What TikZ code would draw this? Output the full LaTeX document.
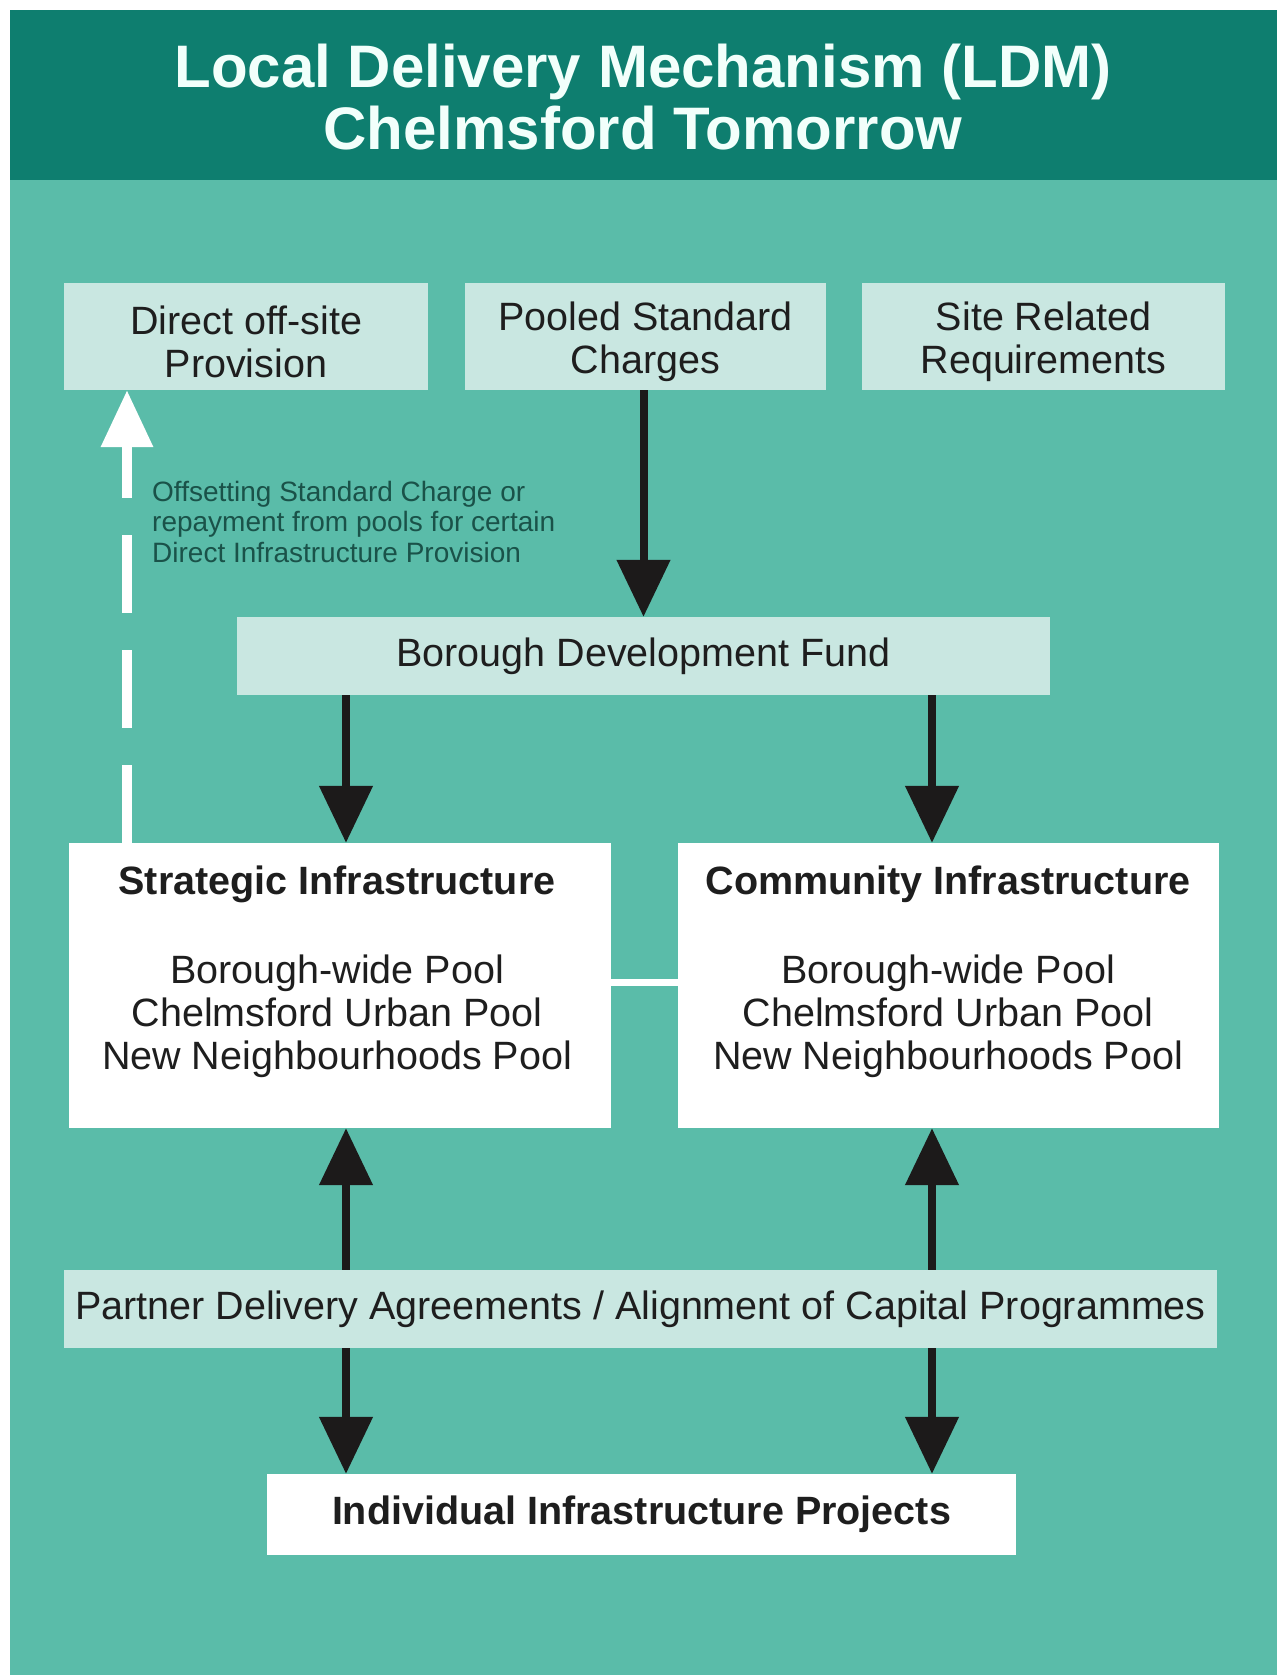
\documentclass[tikz,border=0pt]{standalone}
\usepackage{fontspec}
\setmainfont{Liberation Sans}
\usetikzlibrary{arrows.meta}
\definecolor{hdr}{HTML}{0E7E6F}
\definecolor{bgteal}{HTML}{5ABCA9}
\definecolor{paleteal}{HTML}{C9E7E1}
\definecolor{lbltxt}{HTML}{1A5249}
\definecolor{arrc}{HTML}{1C1A1A}
\definecolor{txtc}{HTML}{1E1E1E}
\definecolor{ttlc}{HTML}{F2FFFB}
\tikzset{
  boxbase/.style={inner sep=0pt, align=center, text=txtc,
    font=\fontsize{39.5bp}{43bp}\selectfont},
  palebox/.style={boxbase, fill=paleteal},
  whitebox/.style={boxbase, fill=white},
  plaintext/.style={inner sep=0pt, align=center, text=txtc,
    font=\fontsize{39.5bp}{43bp}\selectfont},
  arr/.style={draw=arrc, line width=8bp, -{Triangle[width=52bp,length=57bp]}},
  dasharr/.style={draw=white, line width=10bp, dash pattern=on 78bp off 37bp,
    -{Triangle[width=50bp,length=57bp]}},
}
\begin{document}
\begin{tikzpicture}[x=1bp,y=-1bp]
\useasboundingbox (0,0) rectangle (1277,1675);
\fill[white] (0,0) rectangle (1277,1675);
\fill[bgteal] (10,10) rectangle (1277,1675);
\fill[hdr] (10,10) rectangle (1277,180);

\node[inner sep=0pt, align=center, text=ttlc,
  font=\fontsize{60bp}{62bp}\selectfont\bfseries] (title) at (643,97)
  {Local Delivery Mechanism (LDM)\\Chelmsford Tomorrow};

\node[palebox, minimum width=364bp, minimum height=107bp] (dop) at (246,336.5) {};
\node[palebox, minimum width=361bp, minimum height=107bp] (psc) at (645.5,336.5) {};
\node[palebox, minimum width=363bp, minimum height=107bp] (srr) at (1043.5,336.5) {};
\node[plaintext] (dopt) at (246,342) {Direct off-site\\Provision};
\node[plaintext] (psct) at (645.5,342) {Pooled Standard\\Charges};
\node[plaintext] (srrt) at (1043.5,342) {Site Related\\Requirements};

\node[palebox, minimum width=813bp, minimum height=78bp] (bdf) at (643.5,656) {Borough Development Fund};

\node[whitebox, minimum width=542bp, minimum height=285bp] (si) at (340,985.5) {};
\node[whitebox, minimum width=541bp, minimum height=285bp] (ci) at (948.5,985.5) {};
\node[plaintext, font=\fontsize{39.5bp}{43bp}\selectfont\bfseries] (sit) at (337,884) {Strategic Infrastructure};
\node[plaintext, font=\fontsize{39.5bp}{43bp}\selectfont\bfseries] (cit) at (948,884) {Community Infrastructure};
\node[plaintext] (sip) at (337,1016) {Borough-wide Pool\\Chelmsford Urban Pool\\New Neighbourhoods Pool};
\node[plaintext] (cip) at (948,1016) {Borough-wide Pool\\Chelmsford Urban Pool\\New Neighbourhoods Pool};

\node[palebox, minimum width=1153bp, minimum height=78bp] (pda) at (640.5,1309)
  {Partner Delivery Agreements / Alignment of Capital Programmes};
\node[whitebox, minimum width=749bp, minimum height=81bp,
  font=\fontsize{39.5bp}{43bp}\selectfont\bfseries] (iip) at (641.5,1514.5)
  {Individual Infrastructure Projects};

\node[inner sep=0pt, anchor=north west, align=left, text=lbltxt,
  font=\fontsize{28bp}{30.5bp}\selectfont] (lab) at (152,481)
  {Offsetting Standard Charge or\\repayment from pools for certain\\Direct Infrastructure Provision};

\coordinate (xl) at (346,0);
\coordinate (xr) at (932,0);
\coordinate (xd) at (127,0);
\coordinate (yc) at (0,982);

\draw[arr] (bdf.north |- psc.south) -- (bdf.north);
\draw[arr] (xl |- bdf.south) -- (xl |- si.north);
\draw[arr] (xr |- bdf.south) -- (xr |- ci.north);
\draw[arr] (xl |- pda.north) -- (xl |- si.south);
\draw[arr] (xr |- pda.north) -- (xr |- ci.south);
\draw[arr] (xl |- pda.south) -- (xl |- iip.north);
\draw[arr] (xr |- pda.south) -- (xr |- iip.north);
\draw[dasharr] (xd |- si.north) -- (xd |- dop.south);
\draw[white, line width=7bp] (si.east |- yc) -- (ci.west |- yc);
\end{tikzpicture}
\end{document}
